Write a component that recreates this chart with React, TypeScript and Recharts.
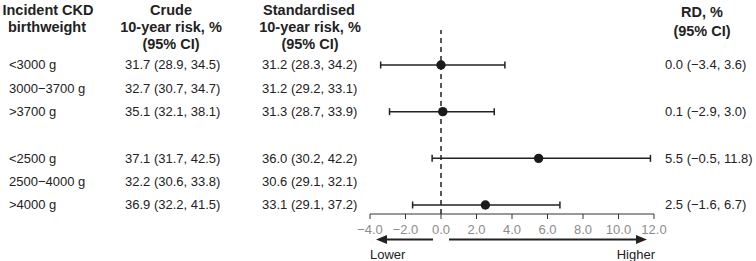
import { ScatterChart, Scatter, XAxis, YAxis, ErrorBar, ReferenceLine } from "recharts";

const FONT = '"Liberation Sans", Arial, Helvetica, sans-serif';
const INK = "#222";
const MUTED = "#8c8c8c";

type Est = [number, number, number] | null;

// One entry per row; the blank entry is the spacer between the two birthweight groupings.
const groups = ["<3000 g", "3000−3700 g", ">3700 g", "", "<2500 g", "2500−4000 g", ">4000 g"];
const crude: Est[] = [
  [31.7, 28.9, 34.5],
  [32.7, 30.7, 34.7],
  [35.1, 32.1, 38.1],
  null,
  [37.1, 31.7, 42.5],
  [32.2, 30.6, 33.8],
  [36.9, 32.2, 41.5],
];
const standardised: Est[] = [
  [31.2, 28.3, 34.2],
  [31.2, 29.2, 33.1],
  [31.3, 28.7, 33.9],
  null,
  [36.0, 30.2, 42.2],
  [30.6, 29.1, 32.1],
  [33.1, 29.1, 37.2],
];
// risk difference vs. the reference category (reference rows have no estimate)
const riskDiff: Est[] = [
  [0.0, -3.4, 3.6],
  null,
  [0.1, -2.9, 3.0],
  null,
  [5.5, -0.5, 11.8],
  null,
  [2.5, -1.6, 6.7],
];
const xTicks = [-4, -2, 0, 2, 4, 6, 8, 10, 12];
const rowTicks = groups.map((_, i) => i);

const num = (v: number) => v.toFixed(1).replace("-", "−");
const fmt = (e: Est) => (e ? `${num(e[0])} (${num(e[1])}, ${num(e[2])})` : "");

const points = riskDiff
  .map((e, i) => (e ? { row: i, rd: e[0], err: [e[0] - e[1], e[2] - e[0]] } : null))
  .filter(Boolean);

const textProps = { fontFamily: FONT, fontSize: 13, fill: INK, dominantBaseline: "central" as const };

function RowTick({ y, payload }: any) {
  const i = payload.value as number;
  return (
    <g>
      <text x={9} y={y} {...textProps}>{groups[i]}</text>
      <text x={125} y={y} {...textProps}>{fmt(crude[i])}</text>
      <text x={262} y={y} {...textProps}>{fmt(standardised[i])}</text>
    </g>
  );
}

function RdTick({ y, payload }: any) {
  const i = payload.value as number;
  return (
    <text x={665} y={y} {...textProps}>
      {fmt(riskDiff[i])}
    </text>
  );
}

function XTick({ x, y, payload }: any) {
  return (
    <text x={x} y={y} dy={8} textAnchor="middle" fontFamily={FONT} fontSize={13} fill={MUTED} dominantBaseline="central">
      {num(payload.value)}
    </text>
  );
}

const Dot = (p: any) => <circle cx={p.cx} cy={p.cy} r={4.7} fill="#1a1a1a" />;

const head = { fontFamily: FONT, fontSize: 14.5, fontWeight: 700, fill: INK, textAnchor: "middle" as const, dominantBaseline: "central" as const };

function Headers() {
  return (
    <svg width={756} height={261} style={{ position: "absolute", left: 0, top: 0, pointerEvents: "none" }}>
      <text x={48} y={10} {...head}>Incident CKD</text>
      <text x={47} y={27} {...head}>birthweight</text>
      <text x={171} y={10} {...head}>Crude</text>
      <text x={171} y={27} {...head}>10-year risk, %</text>
      <text x={171} y={44} {...head}>(95% CI)</text>
      <text x={309} y={10} {...head}>Standardised</text>
      <text x={310} y={27} {...head}>10-year risk, %</text>
      <text x={310} y={44} {...head}>(95% CI)</text>
      <text x={702} y={12} {...head}>RD, %</text>
      <text x={702} y={31} {...head}>(95% CI)</text>

      {/* direction arrows under the axis */}
      <line x1={433} y1={239.5} x2={385} y2={239.5} stroke={INK} strokeWidth={2} />
      <polygon points="376,239.5 387,235 387,244" fill={INK} />
      <line x1={449} y1={239.5} x2={638} y2={239.5} stroke={INK} strokeWidth={2} />
      <polygon points="647,239.5 636,235 636,244" fill={INK} />
      <text x={370} y={254} {...textProps}>Lower</text>
      <text x={655} y={254} {...textProps} textAnchor="end">Higher</text>
    </svg>
  );
}

export default function App() {
  return (
    <div style={{ position: "absolute", left: 0, top: 0, width: 756, height: 261, background: "#fff" }}>
      <ScatterChart width={756} height={261} margin={{ top: 30, right: 0, bottom: 0, left: 0 }}>
        <XAxis
          type="number"
          dataKey="rd"
          domain={[-4, 12]}
          ticks={xTicks}
          allowDataOverflow
          height={47}
          stroke="#333"
          tickSize={5}
          tick={<XTick />}
        />
        <YAxis
          yAxisId="rows"
          type="number"
          dataKey="row"
          domain={[-1.5, 6.386]}
          reversed
          allowDataOverflow
          ticks={rowTicks}
          interval={0}
          width={370}
          axisLine={false}
          tickLine={false}
          tick={<RowTick />}
        />
        <YAxis
          yAxisId="rd"
          orientation="right"
          type="number"
          domain={[-1.5, 6.386]}
          reversed
          allowDataOverflow
          ticks={rowTicks}
          interval={0}
          width={102}
          axisLine={false}
          tickLine={false}
          tick={<RdTick />}
        />
        <ReferenceLine x={0} yAxisId="rows" stroke={INK} strokeWidth={1.5} strokeDasharray="5 4" />
        <Scatter yAxisId="rows" data={points as any[]} shape={Dot} isAnimationActive={false}>
          <ErrorBar dataKey="err" direction="x" width={3.5} stroke={INK} strokeWidth={1.5} />
        </Scatter>
      </ScatterChart>
      <Headers />
    </div>
  );
}
